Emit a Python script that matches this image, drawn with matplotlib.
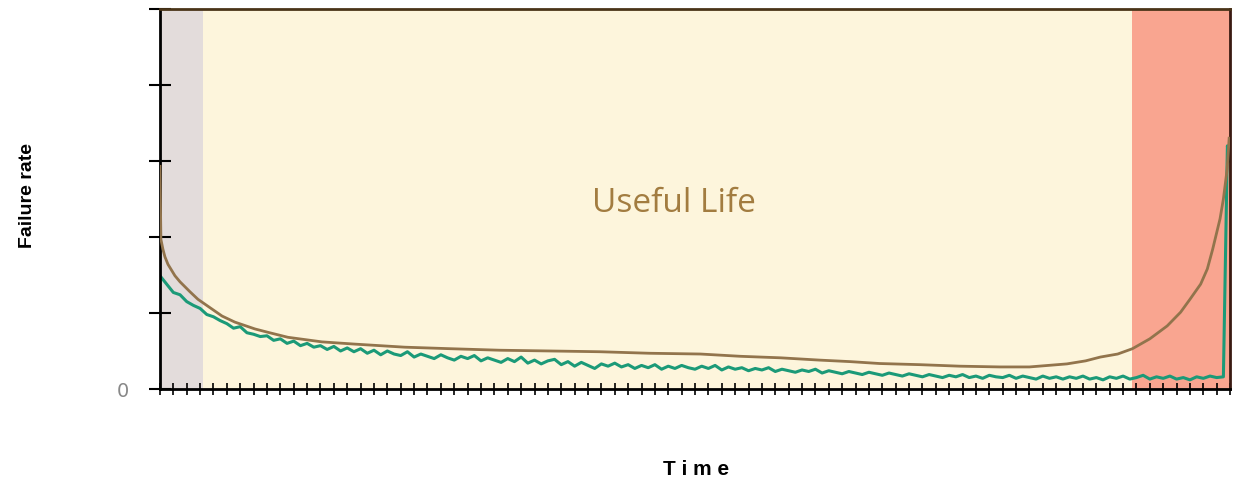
##libraries for the bathtub curve plot
import numpy as np
import matplotlib
matplotlib.use("Agg")
import matplotlib.pyplot as plt

##phase boundaries on the time axis (infant mortality / useful life / wear out)
phase_edges = [0, 3.2, 72.7, 80]
phase_colors = ["#e3dcdb", "#fdf5dc", "#f9a590"]

##smooth (theoretical) failure rate curve
model_time = [0, 0.07, 0.22, 0.37, 0.6, 1.12, 1.5, 2.24, 2.84, 3.74, 4.64, 5.6, 7.1,
              8.2, 9.57, 12.1, 14.6, 18.3, 21.7, 25.4, 29.2, 32.9, 36.6, 40.4,
              43.4, 46.4, 49.3, 51.6, 53.8, 56.8, 59.8, 62.8, 65.0, 67.8, 69.2,
              70.3, 71.6, 72.7, 74.0, 75.3, 76.3, 77.0, 77.8, 78.3, 78.7, 79.25,
              79.5, 79.78, 79.93]
model_rate = [2.93, 1.97, 1.84, 1.74, 1.64, 1.49, 1.41, 1.28, 1.18, 1.07, 0.96, 0.88, 0.79,
              0.74, 0.68, 0.62, 0.59, 0.55, 0.53, 0.51, 0.50, 0.49, 0.47, 0.46,
              0.43, 0.41, 0.38, 0.36, 0.335, 0.32, 0.30, 0.29, 0.29, 0.33, 0.37,
              0.42, 0.46, 0.53, 0.66, 0.83, 1.01, 1.18, 1.38, 1.58, 1.84, 2.24,
              2.5, 2.89, 3.3]

##observed (noisy) failure rate, one value every half time unit
obs_time = np.arange(0, 80, 0.5)
obs_rate = [
    1.49, 1.38, 1.27, 1.24, 1.15, 1.10, 1.06, 0.98, 0.95, 0.90,
    0.86, 0.80, 0.82, 0.74, 0.72, 0.69, 0.70, 0.64, 0.66, 0.60,
    0.63, 0.57, 0.60, 0.55, 0.57, 0.52, 0.56, 0.50, 0.54, 0.49,
    0.53, 0.47, 0.51, 0.45, 0.50, 0.46, 0.44, 0.49, 0.42, 0.46,
    0.43, 0.40, 0.45, 0.41, 0.38, 0.43, 0.40, 0.44, 0.37, 0.41,
    0.38, 0.35, 0.40, 0.36, 0.42, 0.34, 0.38, 0.33, 0.37, 0.39,
    0.32, 0.36, 0.30, 0.35, 0.31, 0.27, 0.33, 0.30, 0.34, 0.29,
    0.32, 0.27, 0.31, 0.28, 0.32, 0.26, 0.30, 0.27, 0.31, 0.28,
    0.26, 0.30, 0.27, 0.31, 0.25, 0.29, 0.26, 0.28, 0.24, 0.27,
    0.25, 0.28, 0.23, 0.26, 0.24, 0.22, 0.25, 0.23, 0.26, 0.21,
    0.24, 0.22, 0.20, 0.23, 0.21, 0.19, 0.22, 0.20, 0.18, 0.21,
    0.19, 0.17, 0.20, 0.18, 0.16, 0.19, 0.17, 0.15, 0.18, 0.16,
    0.19, 0.15, 0.17, 0.14, 0.18, 0.16, 0.15, 0.18, 0.14, 0.17,
    0.15, 0.13, 0.17, 0.14, 0.16, 0.13, 0.16, 0.14, 0.17, 0.13,
    0.15, 0.12, 0.16, 0.14, 0.17, 0.13, 0.15, 0.18, 0.13, 0.16,
    0.14, 0.17, 0.13, 0.15, 0.12, 0.16, 0.14, 0.17, 0.15, 0.16,
]
##the sudden jump at the very end
spike_time = [79.8, 79.9]
spike_rate = [3.2, 3.0]

fig = plt.figure(figsize=(12.4, 4.89), dpi=100)
ax = fig.add_axes([0.129, 0.2025, 0.863, 0.777])

##background bands for the three phases
for i in range(3):
    ax.axvspan(phase_edges[i], phase_edges[i + 1], color=phase_colors[i], lw=0, zorder=0)

ax.plot(model_time, model_rate, color="#92744c", lw=2, zorder=3, solid_joinstyle="round")
ax.plot(list(obs_time) + spike_time, obs_rate + spike_rate, color="#1b9a78", lw=2.2, zorder=2)

ax.set_xlim(0, 80)
ax.set_ylim(0, 5)

##ticks cross the axes, only "0" is labelled on y
ax.set_xticks(np.arange(0, 81, 1))
ax.set_xticklabels([])
ax.set_yticks(np.arange(0, 6, 1))
ax.set_yticklabels(["0", "", "", "", "", ""])
ax.tick_params(axis="y", direction="inout", length=16, width=1.5, color="black",
               labelsize=14, labelcolor="#888888", pad=14)
ax.tick_params(axis="x", direction="inout", length=9, width=1.2, color="black")

ax.spines["left"].set_linewidth(2)
ax.spines["bottom"].set_linewidth(2)
ax.spines["top"].set_color("#4a3418")
ax.spines["top"].set_linewidth(2)
ax.spines["right"].set_color("#3a1a12")
ax.spines["right"].set_linewidth(2)

ax.text(0.48, 0.49, "Useful Life", transform=ax.transAxes, ha="center", va="center",
        fontsize=24, color="#a27c40", family="Open Sans")

fig.text(0.022, 0.60, "Failure rate", rotation=90, ha="center", va="center",
         fontsize=14, fontweight="bold", family="Liberation Sans")
fig.text(0.561, 0.04, "T i m e", ha="center", va="center",
         fontsize=15, fontweight="bold", family="Liberation Sans")

fig.savefig("out.png", dpi=100)
